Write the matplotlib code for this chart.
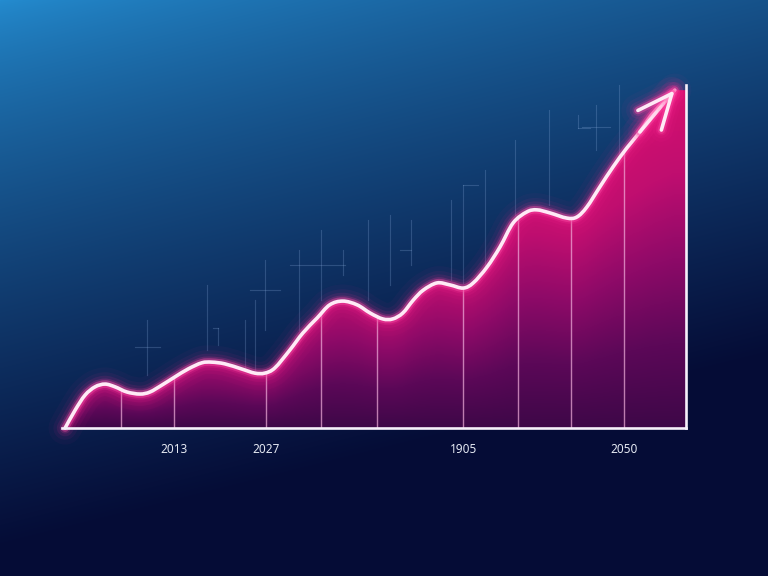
import numpy as np
import matplotlib
matplotlib.use('Agg')
import matplotlib.pyplot as plt
import matplotlib.patheffects as pe
from matplotlib.patches import PathPatch
from matplotlib.path import Path
from matplotlib.colors import LinearSegmentedColormap

# curve: x runs 0-100 across the frame, y 0-100 up the frame
curve_x = [0.5, 2.1, 3.7, 5.3, 6.9, 8.5, 10.4, 12.5, 14.1, 16.0, 18.1, 20.2,
           22.4, 24.0, 26.1, 28.8, 30.9, 32.5, 34.1, 36.5, 38.6, 40.9, 42.9,
           45.0, 47.3, 49.4, 51.4, 53.0, 54.6, 56.3, 57.9, 60.1, 62.2, 64.3,
           65.9, 68.1, 70.2, 72.3, 74.5, 76.1, 78.2, 80.9, 82.5, 84.1, 86.2,
           88.3, 90.5, 92.6, 94.7, 98.2]
curve_y = [0.0, 5.2, 9.6, 12.0, 12.8, 12.0, 10.5, 9.9, 10.5, 12.5, 14.9, 17.2,
           19.0, 19.2, 18.7, 17.2, 16.0, 16.0, 17.5, 22.7, 27.7, 32.1, 35.9,
           37.0, 35.9, 33.5, 31.8, 31.8, 33.5, 37.3, 40.2, 42.3, 41.7, 40.8,
           42.3, 46.9, 52.8, 59.8, 63.0, 63.6, 62.7, 61.2, 61.5, 64.4, 70.3,
           76.1, 81.6, 86.3, 91.8, 98.5]

# thin lines standing under the curve
grid_x = [9.5, 17.9, 32.7, 41.5, 50.5, 64.3, 73.1, 81.6, 90.1]

tick_x = [17.9, 32.7, 64.3, 90.1]
tick_labels = ['2013', '2027', '1905', '2050']

# faint background strokes (x, y0, y1) and small crosses (y, x0, x1)
deco_v = [(13.6, 15.5, 31.5), (23.2, 22.7, 41.7), (25.0, 24.2, 29.2),
          (29.3, 15.5, 31.5), (30.9, 16.9, 37.3), (32.5, 28.6, 49.0),
          (38.0, 28.6, 51.9), (41.5, 37.3, 57.7), (45.0, 44.6, 51.9),
          (49.0, 37.3, 60.6), (52.6, 41.7, 62.1), (55.9, 47.5, 60.6),
          (62.3, 43.1, 66.5), (64.3, 42.3, 70.8), (67.8, 44.6, 75.2),
          (72.6, 62.1, 84.0), (78.0, 65.0, 92.7), (82.7, 87.5, 91.3),
          (85.6, 81.0, 94.2), (89.3, 78.1, 100.0)]
deco_h = [(23.6, 11.7, 15.7), (29.2, 24.2, 25.0), (40.2, 30.1, 34.9),
          (47.5, 36.5, 45.4), (51.9, 54.2, 55.9), (70.8, 64.3, 66.7),
          (87.8, 83.3, 87.8), (87.5, 82.7, 84.6)]


def smooth_path(xs, ys):
    # draw the read points as one smooth bezier path (catmull-rom handles)
    pts = np.column_stack([xs, ys])
    n = len(pts)
    verts = [pts[0]]
    codes = [Path.MOVETO]
    for i in range(n - 1):
        p0 = pts[max(i - 1, 0)]
        p1 = pts[i]
        p2 = pts[i + 1]
        p3 = pts[min(i + 2, n - 1)]
        verts += [p1 + (p2 - p0) / 6, p2 - (p3 - p1) / 6, p2]
        codes += [Path.CURVE4] * 3
    return verts, codes


W, H = 768, 576
fig = plt.figure(figsize=(W / 100, H / 100), dpi=100)

# background gradient
bg_ax = fig.add_axes([0, 0, 1, 1])
yy, xx = np.mgrid[0:1:H * 1j, 0:1:W * 1j]
top = np.array([36, 140, 208]) / 255.
bot = np.array([5, 12, 54]) / 255.
t = np.clip(yy * 1.05 + xx * 0.35, 0, 1) ** 0.75
bg = top * (1 - t[..., None]) + bot * t[..., None]
bg_ax.imshow(bg, aspect='auto', extent=(0, 1, 0, 1), origin='upper')
bg_ax.set_axis_off()

ax = fig.add_axes([62 / W, (H - 428) / H, 624 / W, 343 / H])
ax.set_xlim(0, 100)
ax.set_ylim(0, 100)
ax.patch.set_alpha(0)

for x, y0, y1 in deco_v:
    ax.plot([x, x], [y0, y1], color='#8fb0e0', lw=0.8, alpha=0.25, zorder=1, clip_on=False)
for y, x0, x1 in deco_h:
    ax.plot([x0, x1], [y, y], color='#8fb0e0', lw=0.8, alpha=0.25, zorder=1, clip_on=False)

# filled area, shaded from the curve down to the baseline
verts, codes = smooth_path(curve_x, curve_y)
fill_verts = verts + [(100, curve_y[-1]), (100, 0), (curve_x[0], 0), (curve_x[0], 0)]
fill_codes = codes + [Path.LINETO, Path.LINETO, Path.LINETO, Path.CLOSEPOLY]
clip_patch = PathPatch(Path(fill_verts, fill_codes), facecolor='none', edgecolor='none')
ax.add_patch(clip_patch)

fill_cmap = LinearSegmentedColormap.from_list(
    'fill', ['#3e0748', '#5c0858', '#8e0a68', '#c00e70', '#d4106e'])
gy, gx = np.mgrid[0:100:400j, 0:100:400j]
ytop = np.interp(gx, curve_x + [100], curve_y + [curve_y[-1]])
shade = 0.55 * (gy / np.maximum(ytop, 1)) + 0.45 * (gy / 100)
im = ax.imshow(np.clip(shade, 0, 1), cmap=fill_cmap, vmin=0, vmax=1, aspect='auto',
               extent=(0, 100, 0, 100), origin='lower', zorder=2)
im.set_clip_path(clip_patch)

for g in grid_x:
    ln = ax.axvline(g, color='#f2b0dc', lw=1.0, alpha=0.7, zorder=3)
    ln.set_clip_path(clip_patch)

# glowing line with arrow head
glow = [pe.Stroke(linewidth=lw, foreground=c, alpha=a)
        for lw, a, c in [(24, 0.035, '#ff2a95'), (17, 0.06, '#ff2a95'),
                         (12, 0.1, '#ff2a95'), (8, 0.18, '#ff3a9e'),
                         (5.5, 0.4, '#ff4fa8')]] + [pe.Normal()]
core = '#ffeaf6'
ax.add_patch(PathPatch(Path(verts, codes), facecolor='none', edgecolor=core, lw=2.6,
                       capstyle='round', joinstyle='round', zorder=5, clip_on=False,
                       path_effects=glow))
ax.annotate('', xy=(curve_x[-1], curve_y[-1]), xytext=(curve_x[-3], curve_y[-3]),
            arrowprops=dict(arrowstyle='->,head_length=25,head_width=11',
                            mutation_scale=1, color=core, lw=2.6,
                            shrinkA=0, shrinkB=0, capstyle='round', joinstyle='round',
                            path_effects=glow),
            zorder=5, annotation_clip=False)

# frame
for side in ['top', 'left']:
    ax.spines[side].set_visible(False)
for side in ['bottom', 'right']:
    ax.spines[side].set_color('#f6f0fa')
    ax.spines[side].set_linewidth(1.9)
    ax.spines[side].set_zorder(6)
ax.set_yticks([])
ax.set_xticks(tick_x)
ax.set_xticklabels(tick_labels, fontfamily='Noto Sans', fontsize=8.5, color='#e4e8f2')
ax.tick_params(axis='x', length=0, pad=11)

fig.savefig('out.png', dpi=100)
